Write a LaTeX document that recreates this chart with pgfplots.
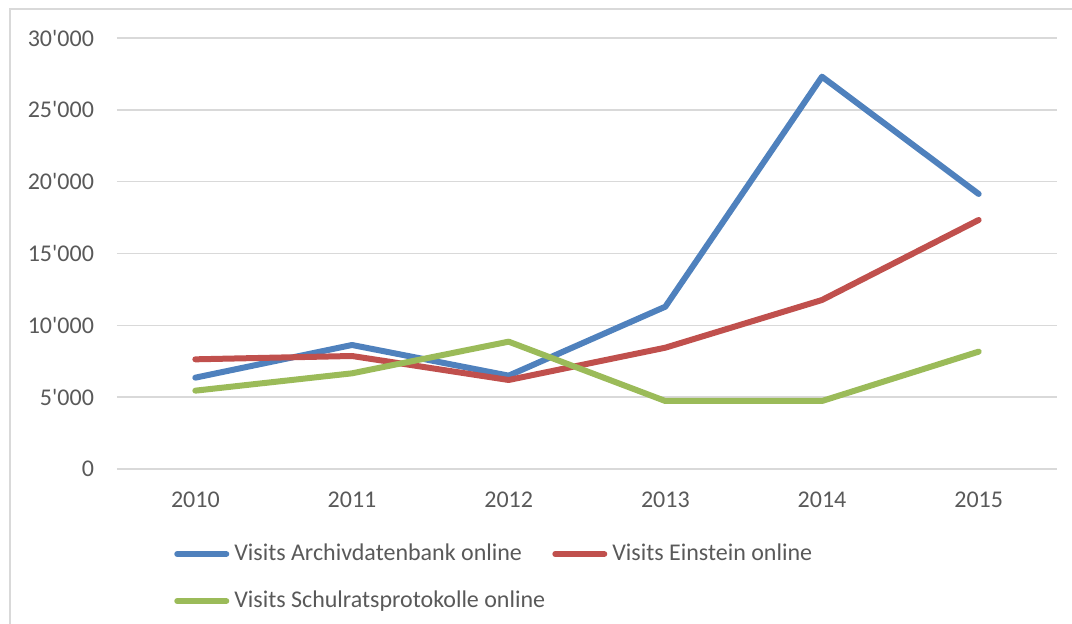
\documentclass[border=0pt]{standalone}
\usepackage{pgfplots}
\pgfplotsset{compat=1.18}
\usepackage{fontspec}
\setmainfont{Carlito}
\definecolor{cblue}{HTML}{4F81BD}
\definecolor{cred}{HTML}{C0504D}
\definecolor{cgreen}{HTML}{9BBB59}
\definecolor{gridgray}{HTML}{D9D9D9}
\definecolor{txtgray}{HTML}{595959}
\begin{document}
\begin{tikzpicture}
\useasboundingbox (-58.5pt,-77.5pt) rectangle (477.5pt,234.5pt);
\begin{scope}
\clip (-58.5pt,-77.5pt) rectangle (477.5pt,234.5pt);
\draw[gridgray, line width=0.75pt] (-53.5pt,-100pt) -- (-53.5pt,230pt) -- (500pt,230pt);
\end{scope}
\begin{axis}[
  at={(0pt,0pt)}, anchor=south west,
  scale only axis,
  width=470pt, height=215.5pt,
  xmin=-0.5, xmax=5.5,
  ymin=0, ymax=30000,
  xtick={0,1,2,3,4,5},
  xticklabels={2010,2011,2012,2013,2014,2015},
  ytick={0,5000,10000,15000,20000,25000,30000},
  scaled y ticks=false,
  yticklabel style={/pgf/number format/fixed, /pgf/number format/1000 sep={\textquotesingle}, /pgf/number format/assume math mode=true, xshift=-8pt},
  ymajorgrids,
  major grid style={draw=gridgray, line width=0.75pt},
  axis line style={draw=none},
  major tick length=0pt,
  tick style={draw=none},
  ticklabel style={font=\fontsize{12}{14}\selectfont, text=txtgray},
  xticklabel style={yshift=-8pt},
  legend columns=2,
  legend cell align=left,
  legend style={
    at={(0.0605,-0.2518)}, anchor=west,
    draw=none, fill=none, inner sep=0pt,
    font=\fontsize{12}{14}\selectfont, text=txtgray,
    nodes={inner sep=0pt, text height=8.5pt, text depth=2.5pt},
    row sep=12.5pt,
    /tikz/every odd column/.append style={column sep=2.5pt},
    /tikz/every even column/.append style={column sep=3.5pt},
  },
  legend image code/.code={\draw[#1, line cap=round] (1.5pt,0pt) -- (26pt,0pt);},
  every axis plot/.append style={line width=3pt, line join=round, line cap=round, mark=none},
]
\addplot[cblue] coordinates {(0,6357) (1,8631) (2,6497) (3,11297) (4,27306) (5,19142)};
\addlegendentry{Visits Archivdatenbank online}
\addplot[cred] coordinates {(0,7633) (1,7865) (2,6195) (3,8443) (4,11763) (5,17332)};
\addlegendentry{Visits Einstein online}
\addplot[cgreen] coordinates {(0,5452) (1,6659) (2,8863) (3,4733) (4,4733) (5,8167)};
\addlegendentry{Visits Schulratsprotokolle online}
\end{axis}
\end{tikzpicture}
\end{document}
